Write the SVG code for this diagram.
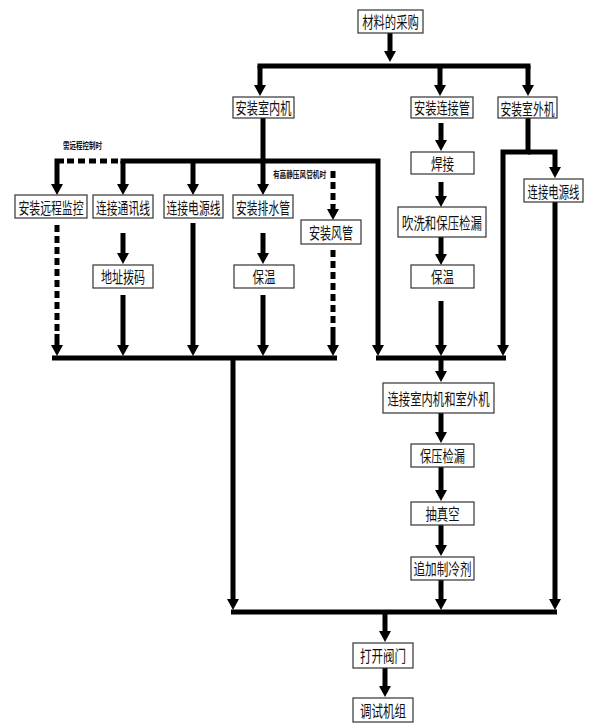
<svg xmlns="http://www.w3.org/2000/svg" width="595" height="725" viewBox="0 0 595 725">
<style>
.b{fill:#fff;stroke:#333;stroke-width:1.2}
.t{font-family:"Noto Sans CJK SC",sans-serif;font-size:16px;text-anchor:middle;dominant-baseline:central;fill:#111}
.s{font-family:"Noto Sans CJK SC",sans-serif;font-size:9px;font-weight:bold;text-anchor:middle;dominant-baseline:central;fill:#111}
.c path{fill:none;stroke:#000;stroke-width:5}
.c .a{marker-end:url(#ah)}
.c .d{stroke-dasharray:7 4}
</style>
<defs>
<marker id="ah" markerUnits="userSpaceOnUse" markerWidth="11" markerHeight="12" viewBox="0 0 11 12" refX="4" refY="6" orient="auto">
<path d="M0,0 L11,6 L0,12 z" fill="#000"/>
</marker>
</defs>
<rect width="595" height="725" fill="#fff"/>
<g id="connectors" class="c">
<path class="a" d="M390,33 V55"/>
<path d="M257.5,66 H530.5"/>
<path class="a" d="M260,66 V89"/>
<path class="a" d="M440,66 V89"/>
<path class="a" d="M528,66 V89"/>
<path class="a" d="M263,118 V188"/>
<path class="a" d="M120.5,161 H378 V349"/>
<path class="a" d="M123,161 V188"/>
<path class="a" d="M193,161 V188"/>
<path class="d" d="M118,161 H64"/>
<path class="a" d="M64,161 H57 V188"/>
<path class="a" d="M123,233 V257"/>
<path class="a" d="M263,233 V257"/>
<path class="a" d="M123,295 V349"/>
<path class="a" d="M263,295 V349"/>
<path class="a" d="M193,223 V349"/>
<path class="d" d="M57,225 V335"/>
<path class="a" d="M57,334 V349"/>
<path class="d" d="M333,171 V205"/>
<path class="a" d="M333,204 V213"/>
<path class="d" d="M333,250 V335"/>
<path class="a" d="M333,334 V349"/>
<path d="M52,358 H337"/>
<path class="a" d="M233,358 V603"/>
<path class="a" d="M441,123 V144"/>
<path class="a" d="M441,182 V200"/>
<path class="a" d="M441,237 V258"/>
<path class="a" d="M441,301 V349"/>
<path class="a" d="M528,118 V152 H503 V349"/>
<path class="a" d="M528,152 H555 V171"/>
<path d="M376,358 H506"/>
<path class="a" d="M441,358 V375"/>
<path class="a" d="M441,413 V436"/>
<path class="a" d="M441,467 V494"/>
<path class="a" d="M441,525 V549"/>
<path class="a" d="M441,580 V603"/>
<path class="a" d="M555,202 V603"/>
<path d="M231,612 H557"/>
<path class="a" d="M385,612 V635"/>
<path class="a" d="M385,668 V690"/>
<text class="s" transform="translate(82.5,145) scale(0.72,1)">需远程控制时</text>
<text class="s" transform="translate(299.5,174) scale(0.74,1)">有高静压风管机时</text>
</g>
<g id="n1"><rect class="b" x="358" y="10" width="65" height="23"/><text class="t" transform="translate(390.5,21.5) scale(0.71,1)">材料的采购</text></g>
<g id="n2"><rect class="b" x="233" y="97" width="61" height="21"/><text class="t" transform="translate(263.5,107.5) scale(0.7,1)">安装室内机</text></g>
<g id="n3"><rect class="b" x="411" y="97" width="62" height="21"/><text class="t" transform="translate(442,107.5) scale(0.7,1)">安装连接管</text></g>
<g id="n4"><rect class="b" x="498" y="97" width="59" height="21"/><text class="t" transform="translate(527.5,107.5) scale(0.675,1)">安装室外机</text></g>
<g id="n5"><rect class="b" x="15" y="195" width="72" height="23"/><text class="t" transform="translate(51,206.5) scale(0.68,1)">安装远程监控</text></g>
<g id="n6"><rect class="b" x="93" y="195" width="60" height="23"/><text class="t" transform="translate(123,206.5) scale(0.675,1)">连接通讯线</text></g>
<g id="n7"><rect class="b" x="164" y="195" width="59" height="23"/><text class="t" transform="translate(193.5,206.5) scale(0.675,1)">连接电源线</text></g>
<g id="n8"><rect class="b" x="233" y="195" width="60" height="23"/><text class="t" transform="translate(263,206.5) scale(0.675,1)">安装排水管</text></g>
<g id="n9"><rect class="b" x="301" y="220" width="60" height="24"/><text class="t" transform="translate(331,232) scale(0.69,1)">安装风管</text></g>
<g id="n10"><rect class="b" x="93" y="265" width="60" height="23"/><text class="t" transform="translate(123,276.5) scale(0.69,1)">地址拨码</text></g>
<g id="n11"><rect class="b" x="234" y="265" width="60" height="23"/><text class="t" transform="translate(264,276.5) scale(0.72,1)">保温</text></g>
<g id="n12"><rect class="b" x="411" y="152" width="63" height="22"/><text class="t" transform="translate(442.5,163) scale(0.72,1)">焊接</text></g>
<g id="n13"><rect class="b" x="398" y="207" width="88" height="30"/><text class="t" transform="translate(442,222) scale(0.714,1)">吹洗和保压检漏</text></g>
<g id="n14"><rect class="b" x="411" y="265" width="63" height="23"/><text class="t" transform="translate(442.5,276.5) scale(0.72,1)">保温</text></g>
<g id="n15"><rect class="b" x="524" y="179" width="59" height="23"/><text class="t" transform="translate(553.5,190.5) scale(0.65,1)">连接电源线</text></g>
<g id="n16"><rect class="b" x="383" y="383" width="111" height="30"/><text class="t" transform="translate(438.5,398) scale(0.708,1)">连接室内机和室外机</text></g>
<g id="n17"><rect class="b" x="411" y="444" width="63" height="23"/><text class="t" transform="translate(442.5,455.5) scale(0.7,1)">保压检漏</text></g>
<g id="n18"><rect class="b" x="411" y="502" width="63" height="23"/><text class="t" transform="translate(442.5,513.5) scale(0.71,1)">抽真空</text></g>
<g id="n19"><rect class="b" x="411" y="557" width="63" height="23"/><text class="t" transform="translate(442.5,568.5) scale(0.725,1)">追加制冷剂</text></g>
<g id="n20"><rect class="b" x="353" y="643" width="60" height="25"/><text class="t" transform="translate(383,655.5) scale(0.72,1)">打开阀门</text></g>
<g id="n21"><rect class="b" x="353" y="698" width="60" height="24"/><text class="t" transform="translate(383,710) scale(0.72,1)">调试机组</text></g>
</svg>
